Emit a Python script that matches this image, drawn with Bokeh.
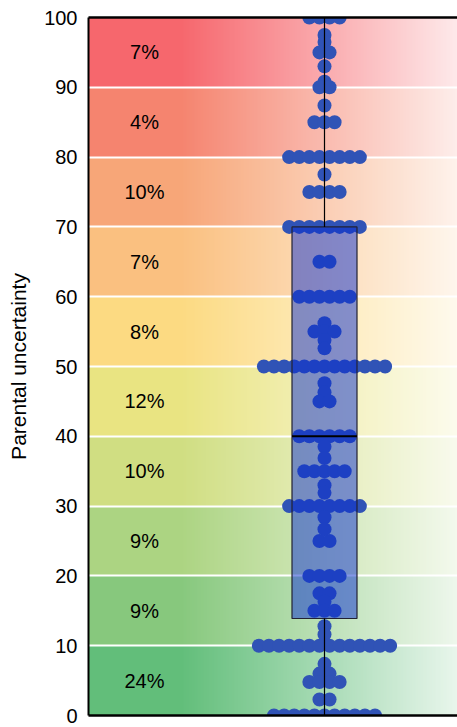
import numpy as np
from bokeh.plotting import figure
from bokeh.models import Range1d, LinearAxis, FixedTicker
from bokeh.core.properties import value
from bokeh.embed import file_html
from bokeh.resources import INLINE

# ---------------- data ----------------
uncertainty = [
    100, 100, 100, 100,
    97.5, 96.5, 95, 95, 93, 90.8, 90, 90,
    87.4, 85, 85, 85,
    80, 80, 80, 80, 80, 80, 80, 80,
    77.5, 75, 75, 75, 75,
    70, 70, 70, 70, 70, 70, 70, 70,
    65, 65,
    60, 60, 60, 60, 60, 60,
    56.2, 55, 55, 55, 53.8, 52.6,
    50, 50, 50, 50, 50, 50, 50, 50, 50, 50, 50, 50, 50,
    47.6, 46.3, 45, 45,
    40, 40, 40, 40, 40, 40,
    38.5, 36.9, 35, 35, 35, 35, 35, 33, 31.9,
    30, 30, 30, 30, 30, 30, 30, 30,
    28.4, 26.7, 25, 25,
    20, 20, 20, 20,
    17.5, 17.5, 16.3, 15, 15, 15, 12.8, 11.6,
    10, 10, 10, 10, 10, 10, 10, 10, 10, 10, 10, 10, 10, 10,
    7.4, 6, 6, 4.8, 4.8, 4.8, 4.8, 2.3, 2.3,
    0, 0, 0, 0, 0, 0, 0, 0, 0, 0, 0,
]

band_lower = [0, 10, 20, 30, 40, 50, 60, 70, 80, 90]
band_share = ["24%", "9%", "9%", "10%", "12%", "8%", "7%", "10%", "4%", "7%"]

box_q1 = 13.9
box_median = 40
box_q3 = 70
whisker_low = 0
whisker_high = 100

y_ticks = [0, 10, 20, 30, 40, 50, 60, 70, 80, 90, 100]

# ---------------- style ----------------
band_colors = ["#62BE7A", "#87C87D", "#ACD482", "#D0DE82", "#E9E482",
               "#FCDA82", "#FAC080", "#F7A678", "#F5846F", "#F6676D"]
FONT = "Liberation Sans"
X0, X1 = -2.36, 1.33          # frame x-range (group centred on 0)
SPACING = 0.101               # horizontal spacing of swarm dots
BOX_HALF = 0.325
LABEL_X = -1.8

# ---------------- swarm offsets ----------------
xs, ys = [], []
groups = {}
for v in uncertainty:
    groups[v] = groups.get(v, 0) + 1
for v, n in groups.items():
    for i in range(n):
        xs.append((i - (n - 1) / 2) * SPACING)
        ys.append(v)

# ---------------- figure ----------------
p = figure(width=457, height=727,
           x_range=Range1d(X0, X1), y_range=Range1d(0, 100),
           output_backend="svg", toolbar_location=None,
           x_axis_location=None,
           min_border_left=88, min_border_right=0,
           min_border_top=17, min_border_bottom=12)
p.outline_line_color = None
p.background_fill_color = "white"

# background gradient bands
rpb, cols = 60, 240
t = (np.arange(cols) + 0.5) / cols
w = np.clip((t - 0.25) * 1.144, 0, 1)
img = np.empty((len(band_colors) * rpb, cols), dtype=np.uint32)
view = img.view(dtype=np.uint8).reshape((len(band_colors) * rpb, cols, 4))
for b, c in enumerate(band_colors):
    rgb = np.array([int(c[1:3], 16), int(c[3:5], 16), int(c[5:7], 16)], dtype=float)
    row = rgb[None, :] * (1 - w[:, None]) + 255 * w[:, None]
    view[b * rpb:(b + 1) * rpb, :, 0:3] = np.round(row).astype(np.uint8)[None, :, :]
    view[b * rpb:(b + 1) * rpb, :, 3] = 255
p.image_rgba(image=[img], x=X0, y=0, dw=X1 - X0, dh=100, level="image")

# grid
p.ygrid.ticker = FixedTicker(ticks=y_ticks)
p.ygrid.grid_line_color = "white"
p.ygrid.grid_line_width = 2
p.xgrid.grid_line_color = None

# percentage labels
p.text(x=[LABEL_X] * len(band_lower), y=[b + 5 for b in band_lower], text=band_share,
       text_font=value(FONT), text_font_size="20px", text_color="black",
       text_align="center", text_baseline="middle")

# dots
p.scatter(xs, ys, size=14, fill_color="#3053B6", line_color=None)

# box
p.quad(left=[-BOX_HALF], right=[BOX_HALF], bottom=[box_q1], top=[box_q3],
       fill_color="#0A2ECF", fill_alpha=0.5, line_color="#222233", line_width=1.2)
p.segment(x0=[-BOX_HALF], y0=[box_median], x1=[BOX_HALF], y1=[box_median],
          line_color="black", line_width=2)
p.segment(x0=[0, 0], y0=[box_q3, whisker_low], x1=[0, 0], y1=[whisker_high, box_q1],
          line_color="black", line_width=1.2)

# y axis
yax = p.yaxis[0]
yax.ticker = FixedTicker(ticks=y_ticks)
yax.axis_line_width = 2
yax.axis_line_color = "black"
yax.major_tick_line_color = None
yax.minor_tick_line_color = None
yax.major_tick_out = 0
yax.major_label_standoff = 11
yax.major_label_text_font = FONT
yax.major_label_text_font_size = "20px"
yax.major_label_text_color = "black"
yax.axis_label = "Parental uncertainty"
yax.axis_label_text_font = FONT
yax.axis_label_text_font_size = "21px"
yax.axis_label_text_font_style = "normal"
yax.axis_label_text_color = "black"
yax.axis_label_standoff = 11

# frame borders (top / bottom)
for loc in ("above", "below"):
    ax = LinearAxis(ticker=FixedTicker(ticks=[]), axis_line_width=2.5, axis_line_color="black",
                    major_tick_line_color=None, minor_tick_line_color=None,
                    major_tick_out=0, major_tick_in=0, major_label_standoff=0,
                    major_label_text_font_size="0px")
    p.add_layout(ax, loc)

open("out.html", "w").write(file_html(p, INLINE))
